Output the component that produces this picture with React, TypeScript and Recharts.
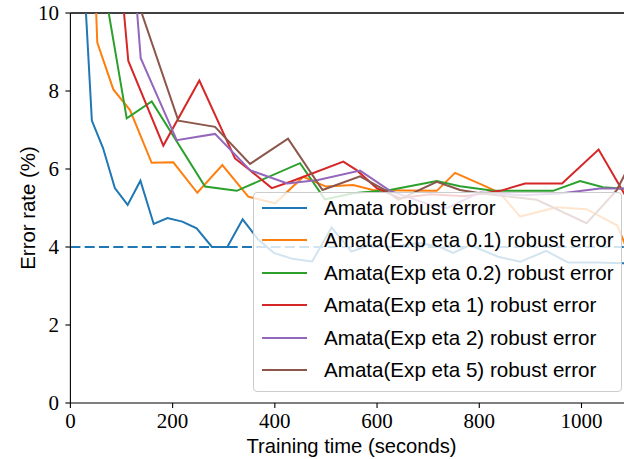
import React from 'react';
import { LineChart, Line, XAxis, YAxis, ReferenceLine, Legend, Label } from 'recharts';

// ---- data (time in seconds, error rate in %) ----
const blueT = [20, 42, 64, 87, 112, 137, 163, 190, 219, 247, 277, 307, 337, 367, 398, 434, 473, 511, 550, 586, 625, 684, 723, 749, 782, 837, 880, 931, 974, 1027, 1100];
const blueV = [12.5, 7.24, 6.53, 5.51, 5.08, 5.7, 4.59, 4.74, 4.65, 4.48, 4.0, 4.0, 4.71, 4.2, 3.85, 3.7, 3.63, 4.5, 3.88, 4.05, 4.0, 4.1, 4.0, 3.85, 4.05, 3.75, 3.62, 3.9, 3.6, 3.6, 3.58];

const orangeT = [42, 52.6, 84, 116.6, 159, 201.4, 248.3, 297.3, 348, 400.4, 455.8, 500, 553, 592, 655, 716.8, 752.6, 814.7, 840.7, 880, 951.6, 1010, 1070, 1100];
const orangeV = [13.0, 9.24, 8.04, 7.51, 6.16, 6.17, 5.39, 6.1, 5.29, 5.12, 5.8, 5.55, 5.59, 5.46, 5.45, 5.44, 5.9, 5.54, 5.38, 4.78, 5.02, 4.97, 4.55, 3.6];

const greenT = [58, 110.2, 159.1, 263.4, 325.4, 449.3, 498, 553, 625.4, 716.8, 762.4, 827.6, 944.4, 997.3, 1042, 1100];
const greenV = [11.3, 7.3, 7.73, 5.55, 5.44, 6.15, 5.22, 5.38, 5.46, 5.69, 5.56, 5.44, 5.44, 5.69, 5.53, 5.48];

const redT = [97, 113.3, 181.8, 252.3, 322, 351.5, 394, 431.7, 534, 560, 599.4, 645, 704, 772, 841, 889.6, 962, 1033.5, 1075.5, 1100];
const redV = [11.15, 8.77, 6.6, 8.27, 6.27, 5.97, 5.51, 5.68, 6.19, 5.97, 5.51, 5.25, 5.35, 5.3, 5.44, 5.63, 5.63, 6.5, 5.55, 5.0];

const purpleT = [122.5, 137.6, 208, 283, 351.5, 424.6, 484.5, 566.7, 625.4, 704, 737, 801.6, 885.7, 958, 1036, 1100];
const purpleV = [11.36, 8.84, 6.74, 6.9, 5.97, 5.63, 5.72, 5.96, 5.44, 5.08, 5.0, 5.4, 5.33, 5.37, 5.5, 5.5];

const brownT = [112.7, 211.2, 283, 351.5, 425.8, 493.3, 566.7, 615.6, 641.7, 716.8, 762.4, 801.6, 912.5, 1010, 1069, 1100];
const brownV = [11.03, 7.24, 7.08, 6.13, 6.78, 5.46, 5.81, 5.46, 5.21, 5.67, 5.46, 5.38, 5.21, 4.61, 5.46, 6.25];

const baselineValue = 4.0;

const xTicks = [0, 200, 400, 600, 800, 1000];
const yTicks = [0, 2, 4, 6, 8, 10];

const seriesNames = [
  'Amata robust error',
  'Amata(Exp eta 0.1) robust error',
  'Amata(Exp eta 0.2) robust error',
  'Amata(Exp eta 1) robust error',
  'Amata(Exp eta 2) robust error',
  'Amata(Exp eta 5) robust error',
];
const seriesColors = ['#1f77b4', '#ff7f0e', '#2ca02c', '#d62728', '#9467bd', '#8c564b'];

const zip = (ts: number[], vs: number[]) => ts.map((t, i) => ({ t, v: vs[i] }));
const seriesData = [
  zip(blueT, blueV),
  zip(orangeT, orangeV),
  zip(greenT, greenV),
  zip(redT, redV),
  zip(purpleT, purpleV),
  zip(brownT, brownV),
];

const SANS = '"Liberation Sans", Arial, sans-serif';
const SERIF = '"Liberation Serif", "Times New Roman", serif';

function LegendBox() {
  const rowStart = 16.3;
  const rowStep = 32.4;
  return (
    <div
      style={{
        position: 'relative',
        boxSizing: 'border-box',
        width: 368.4,
        height: 200,
        border: '1px solid #cccccc',
        borderRadius: 4,
        background: 'rgba(255,255,255,0.8)',
        fontFamily: SANS,
        fontSize: 20.6,
        color: '#000',
      }}
    >
      {seriesNames.map((name, i) => {
        const cy = rowStart + i * rowStep;
        return (
          <React.Fragment key={name}>
            <div
              style={{
                position: 'absolute',
                left: 7.4,
                top: cy - 2,
                width: 45,
                height: 2,
                background: seriesColors[i],
              }}
            />
            <div
              style={{
                position: 'absolute',
                left: 69.7,
                top: cy - 12,
                lineHeight: '22px',
                whiteSpace: 'nowrap',
              }}
            >
              {name}
            </div>
          </React.Fragment>
        );
      })}
    </div>
  );
}

export default function App() {
  return (
    <div
      style={{
        position: 'fixed',
        left: 0,
        top: 0,
        width: 624,
        height: 459,
        overflow: 'hidden',
        background: '#fff',
      }}
    >
      <LineChart width={633} height={459} margin={{ top: 13, right: 0.4, bottom: 0, left: 0 }}>
        <XAxis
          type="number"
          dataKey="t"
          domain={[0, 1100]}
          allowDataOverflow
          ticks={xTicks}
          interval={0}
          height={56}
          tickSize={5}
          tickMargin={5}
          stroke="#000"
          axisLine={{ stroke: '#000', strokeWidth: 1.1 }}
          tickLine={{ stroke: '#000', strokeWidth: 1.1 }}
          tick={{ fill: '#000', fontFamily: SERIF, fontSize: 21 }}
        >
          <Label
            content={(p: any) => {
              const vb = p.viewBox || { x: 70.4, width: 562 };
              return (
                <text
                  x={vb.x + vb.width / 2}
                  y={453}
                  textAnchor="middle"
                  fontFamily={SANS}
                  fontSize={20.2}
                  fill="#000"
                >
                  Training time (seconds)
                </text>
              );
            }}
          />
        </XAxis>
        <YAxis
          type="number"
          dataKey="v"
          domain={[0, 10]}
          allowDataOverflow
          ticks={yTicks}
          interval={0}
          width={70.4}
          tickSize={5}
          tickMargin={6.4}
          stroke="#000"
          axisLine={{ stroke: '#000', strokeWidth: 1.1 }}
          tickLine={{ stroke: '#000', strokeWidth: 1.1 }}
          tick={{ fill: '#000', fontFamily: SERIF, fontSize: 21 }}
        >
          <Label
            content={(p: any) => {
              const vb = p.viewBox || { y: 13, height: 390 };
              const cy = vb.y + vb.height / 2;
              return (
                <text
                  x={35}
                  y={cy}
                  transform={`rotate(-90, 35, ${cy})`}
                  textAnchor="middle"
                  fontFamily={SANS}
                  fontSize={20.4}
                  fill="#000"
                >
                  Error rate (%)
                </text>
              );
            }}
          />
        </YAxis>
        <ReferenceLine y={10} stroke="#000" strokeWidth={1.3} />
        {seriesData.map((d, i) => (
          <Line
            key={seriesNames[i]}
            data={d}
            dataKey="v"
            name={seriesNames[i]}
            type="linear"
            stroke={seriesColors[i]}
            strokeWidth={2}
            dot={false}
            activeDot={false}
            isAnimationActive={false}
          />
        ))}
        <ReferenceLine y={baselineValue} stroke="#1f77b4" strokeWidth={2} strokeDasharray="10 4.3" />
        <Legend
          layout="vertical"
          align="center"
          verticalAlign="middle"
          wrapperStyle={{ position: 'absolute', left: 253.3, top: 191.7, width: 368.4, height: 200 }}
          content={() => <LegendBox />}
        />
      </LineChart>
    </div>
  );
}
